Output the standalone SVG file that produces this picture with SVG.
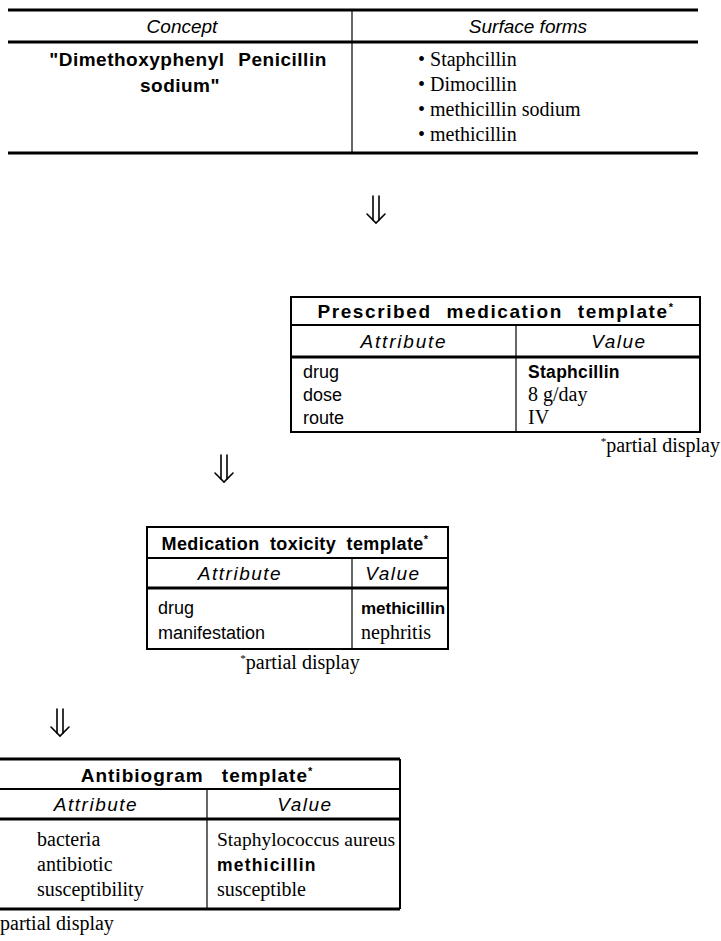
<svg xmlns="http://www.w3.org/2000/svg" width="721" height="941" viewBox="0 0 721 941">
<style>
.bg{fill:#fff}
.thick{stroke:#000;stroke-width:3;fill:none}
.med{stroke:#000;stroke-width:2;fill:none}
.thin{stroke:#000;stroke-width:1.2;fill:none}
.serif{font-family:"Liberation Serif","Times New Roman",serif;font-size:20px;fill:#000}
.sans{font-family:"Liberation Sans",Arial,sans-serif;font-size:18px;fill:#000}
.ital{font-family:"Liberation Sans",Arial,sans-serif;font-style:italic;font-size:19px;fill:#000}
.bold{font-family:"Liberation Sans",Arial,sans-serif;font-weight:bold;font-size:17.5px;letter-spacing:0.3px;fill:#000}
.title{font-family:"Liberation Sans",Arial,sans-serif;font-weight:bold;font-size:19px;letter-spacing:1px;fill:#000}
.sup{font-size:11px}
.mid{text-anchor:middle}
.end{text-anchor:end}
.arrow{stroke:#000;stroke-width:1.6;fill:none;stroke-linecap:round;stroke-linejoin:miter}
</style>
<defs>
<g id="dblarrow">
<line x1="-3" y1="0" x2="-3" y2="24" class="arrow"/>
<line x1="3" y1="0" x2="3" y2="24" class="arrow"/>
<polyline points="-9,18 0,27 9,18" class="arrow"/>
</g>
</defs>
<rect width="721" height="941" class="bg"/>

<g id="concept-table">
<line x1="8" y1="10" x2="698" y2="10" class="thick"/>
<line x1="8" y1="42" x2="698" y2="42" class="thick"/>
<line x1="8" y1="153" x2="698" y2="153" class="thick"/>
<line x1="352" y1="10" x2="352" y2="153" class="thin"/>
<text x="182" y="33" class="ital mid">Concept</text>
<text x="528" y="33" class="ital mid">Surface forms</text>
<text x="188" y="66" class="title mid" style="letter-spacing:0.5px;word-spacing:8px">"Dimethoxyphenyl Penicillin</text>
<text x="180" y="92" class="title mid" style="letter-spacing:0.5px">sodium"</text>
<text x="418" y="66" class="serif">• Staphcillin</text>
<text x="418" y="91" class="serif">• Dimocillin</text>
<text x="418" y="116" class="serif">• methicillin sodium</text>
<text x="418" y="141" class="serif">• methicillin</text>
</g>

<g id="connectors">
<use href="#dblarrow" x="376" y="196"/>
<use href="#dblarrow" x="224" y="455"/>
<use href="#dblarrow" x="60" y="709"/>
</g>

<g id="prescribed-template">
<rect x="291" y="297" width="409" height="135" class="med"/>
<line x1="291" y1="325" x2="700" y2="325" class="med"/>
<line x1="291" y1="357" x2="700" y2="357" class="thick"/>
<line x1="516" y1="325" x2="516" y2="432" class="thin"/>
<text x="496" y="318" class="title mid" style="letter-spacing:1.6px;word-spacing:8px">Prescribed medication template<tspan dy="-7" class="sup">*</tspan></text>
<text x="404" y="348" class="ital mid" letter-spacing="1.8">Attribute</text>
<text x="619" y="348" class="ital mid" letter-spacing="1.5">Value</text>
<text x="303" y="378" class="sans">drug</text>
<text x="303" y="401" class="sans">dose</text>
<text x="303" y="424" class="sans">route</text>
<text x="528" y="378" class="bold">Staphcillin</text>
<text x="528" y="401" class="serif">8 g/day</text>
<text x="528" y="424" class="serif">IV</text>
<text x="720" y="452" class="serif end"><tspan dy="-7" class="sup">*</tspan><tspan dy="7">partial display</tspan></text>
</g>

<g id="toxicity-template">
<rect x="147" y="527" width="301" height="122" class="med"/>
<line x1="147" y1="558" x2="448" y2="558" class="med"/>
<line x1="147" y1="588" x2="448" y2="588" class="thick"/>
<line x1="352" y1="558" x2="352" y2="649" class="thin"/>
<text x="295" y="550" class="title mid" style="font-size:18px;letter-spacing:0.4px;word-spacing:5px">Medication toxicity template<tspan dy="-7" class="sup">*</tspan></text>
<text x="240" y="580" class="ital mid" letter-spacing="1.5">Attribute</text>
<text x="393" y="580" class="ital mid" letter-spacing="1.5">Value</text>
<text x="158" y="614" class="sans">drug</text>
<text x="158" y="639" class="sans">manifestation</text>
<text x="361" y="614" class="bold" style="font-size:17px;letter-spacing:0">methicillin</text>
<text x="361" y="639" class="serif">nephritis</text>
<text x="300" y="669" class="serif mid"><tspan dy="-7" class="sup">*</tspan><tspan dy="7">partial display</tspan></text>
</g>

<g id="antibiogram-template">
<line x1="0" y1="759" x2="400" y2="759" class="thick"/>
<line x1="0" y1="789" x2="400" y2="789" class="med"/>
<line x1="0" y1="819" x2="400" y2="819" class="thick"/>
<line x1="0" y1="909" x2="400" y2="909" class="thick"/>
<line x1="400" y1="759" x2="400" y2="909" class="med"/>
<line x1="207" y1="789" x2="207" y2="909" class="thin"/>
<text x="197" y="782" class="title mid" style="word-spacing:12px">Antibiogram template<tspan dy="-7" class="sup">*</tspan></text>
<text x="96" y="811" class="ital mid" letter-spacing="1.5">Attribute</text>
<text x="305" y="811" class="ital mid" letter-spacing="1.5">Value</text>
<text x="37" y="846" class="serif">bacteria</text>
<text x="37" y="871" class="serif">antibiotic</text>
<text x="37" y="896" class="serif">susceptibility</text>
<text x="217" y="846" class="serif" style="font-size:19.5px">Staphylococcus aureus</text>
<text x="217" y="871" class="bold" style="letter-spacing:1.2px">methicillin</text>
<text x="217" y="896" class="serif">susceptible</text>
<text x="0" y="930" class="serif">partial display</text>
</g>
</svg>
